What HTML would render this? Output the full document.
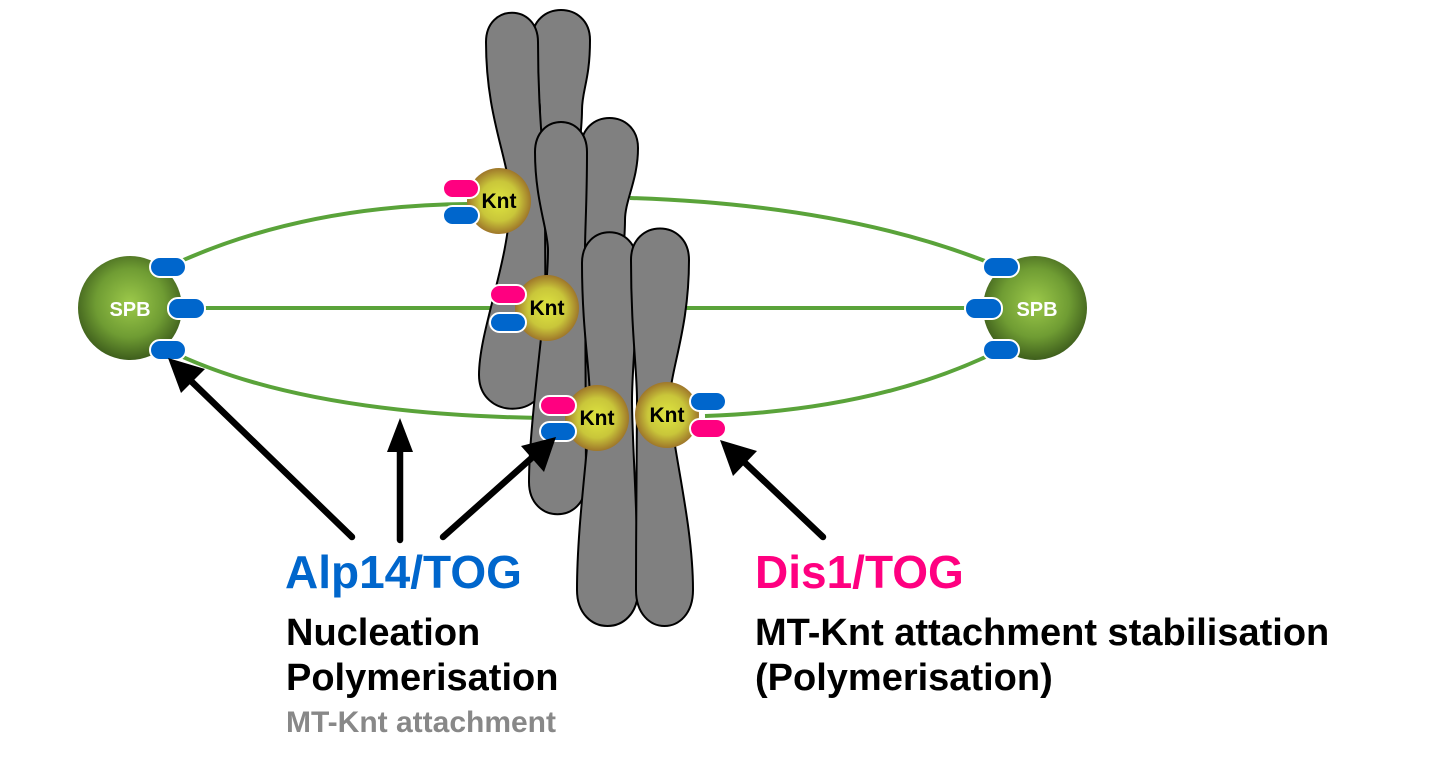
<!DOCTYPE html>
<html><head><meta charset="utf-8"><style>
html,body{margin:0;padding:0;background:#fff;}
svg{display:block;}
text{font-family:"Liberation Sans",Arial,sans-serif;font-weight:bold;}
</style></head><body>
<svg width="1435" height="779" viewBox="0 0 1435 779" xmlns="http://www.w3.org/2000/svg">
<defs>
<radialGradient id="spb" cx="50%" cy="45%" r="55%">
<stop offset="0" stop-color="#9cc94a"/><stop offset="0.6" stop-color="#6f9c33"/><stop offset="1" stop-color="#3e5e1c"/>
</radialGradient>
<radialGradient id="knt" cx="50%" cy="50%" r="55%">
<stop offset="0" stop-color="#dfe640"/><stop offset="0.55" stop-color="#c9c63a"/><stop offset="1" stop-color="#946326"/>
</radialGradient>
</defs>
<g fill="none" stroke="#5aa33a" stroke-width="4">
<path d="M168,267 Q300,205 470,204"/>
<path d="M630,198 Q850,205 1000,267"/>
<path d="M185,308 L500,308"/>
<path d="M680,308 L985,308"/>
<path d="M168,350 Q300,415 545,418"/>
<path d="M705,416 Q880,410 1000,350"/>
</g>
<g fill="#808080" stroke="#000" stroke-width="2">
<path d="M532,40 C532,0 590,0 590,40 C590,80 582,90 582,110 C582,150 560,280 560,300 Q560,330 550,330 Q540,330 540,300 C540,280 540,150 540,110 C540,90 532,80 532,40 Z"/>
<path d="M486,42 C486,3 538,3 538,42 C538,120 545,160 545,200 C545,260 546,330 546,375 C546,420 479,420 479,375 C479,330 510,260 510,200 C510,160 486,120 486,42 Z"/>
<path d="M581,148 C581,108 638,108 638,148 C638,180 625,200 625,220 C625,260 610,400 610,470 Q610,500 597,500 Q585,500 585,470 C585,400 581,260 581,220 C581,200 581,180 581,148 Z"/>
<path d="M535,152 C535,112 587,112 587,152 C587,200 585,230 585,250 C585,300 586,420 586,482 C586,525 529,525 529,482 C529,420 548,300 548,250 C548,230 535,200 535,152 Z"/>
<path d="M582,263 C582,222 637,222 637,263 C637,330 632,370 632,400 C632,440 638,520 638,590 C638,638 577,638 577,590 C577,520 590,440 590,400 C590,370 582,330 582,263 Z"/>
<path d="M631,260 C631,218 689,218 689,260 C689,330 670,370 670,400 C670,440 693,520 693,590 C693,638 636,638 636,590 C636,520 637,440 637,400 C637,370 631,330 631,260 Z"/>
</g>
<circle cx="130" cy="308" r="52" fill="url(#spb)"/>
<circle cx="1035" cy="308" r="52" fill="url(#spb)"/>
<text x="130" y="316" font-size="20" fill="#fff" text-anchor="middle">SPB</text>
<text x="1037" y="316" font-size="20" fill="#fff" text-anchor="middle">SPB</text>
<g fill="url(#knt)">
<ellipse cx="499" cy="201" rx="32" ry="33"/>
<ellipse cx="547" cy="308" rx="32" ry="33"/>
<ellipse cx="597" cy="418" rx="32" ry="33"/>
<ellipse cx="667" cy="415" rx="32" ry="33"/>
</g>
<g font-size="21" fill="#000" text-anchor="middle">
<text x="499" y="208">Knt</text>
<text x="547" y="315">Knt</text>
<text x="597" y="425">Knt</text>
<text x="667" y="422">Knt</text>
</g>
<g stroke="#fff" stroke-width="2">
<g fill="#0066cc">
<rect x="150" y="257" width="36" height="20" rx="10"/>
<rect x="168" y="298" width="37" height="21" rx="10"/>
<rect x="150" y="340" width="36" height="20" rx="10"/>
<rect x="983" y="257" width="36" height="20" rx="10"/>
<rect x="965" y="298" width="37" height="21" rx="10"/>
<rect x="983" y="340" width="36" height="20" rx="10"/>
<rect x="443" y="206" width="36" height="19" rx="9.5"/>
<rect x="490" y="313" width="36" height="19" rx="9.5"/>
<rect x="540" y="422" width="36" height="19" rx="9.5"/>
<rect x="690" y="392" width="36" height="19" rx="9.5"/>
</g>
<g fill="#ff0080">
<rect x="443" y="179" width="36" height="19" rx="9.5"/>
<rect x="490" y="285" width="36" height="19" rx="9.5"/>
<rect x="540" y="396" width="36" height="19" rx="9.5"/>
<rect x="690" y="419" width="36" height="19" rx="9.5"/>
</g>
</g>
<g stroke="#000" stroke-width="6.5" stroke-linecap="round">
<line x1="352" y1="537" x2="190" y2="380"/>
<line x1="400" y1="540" x2="400" y2="445"/>
<line x1="443" y1="537" x2="535" y2="455"/>
<line x1="823" y1="537" x2="742" y2="460"/>
</g>
<g fill="#000">
<polygon points="168,358 205,369 181,393"/>
<polygon points="400,418 413,452 387,452"/>
<polygon points="556,437 544,472 521,446"/>
<polygon points="720,440 757,451 733,476"/>
</g>
<text x="285" y="588" font-size="46" fill="#0066cc">Alp14/TOG</text>
<text x="286" y="645" font-size="38" fill="#000">Nucleation</text>
<text x="286" y="690" font-size="38" fill="#000">Polymerisation</text>
<text x="286" y="732" font-size="30" fill="#888">MT-Knt attachment</text>
<text x="755" y="588" font-size="46" fill="#ff0080">Dis1/TOG</text>
<text x="755" y="645" font-size="38" fill="#000">MT-Knt attachment stabilisation</text>
<text x="755" y="690" font-size="38" fill="#000">(Polymerisation)</text>
</svg>
</body></html>
